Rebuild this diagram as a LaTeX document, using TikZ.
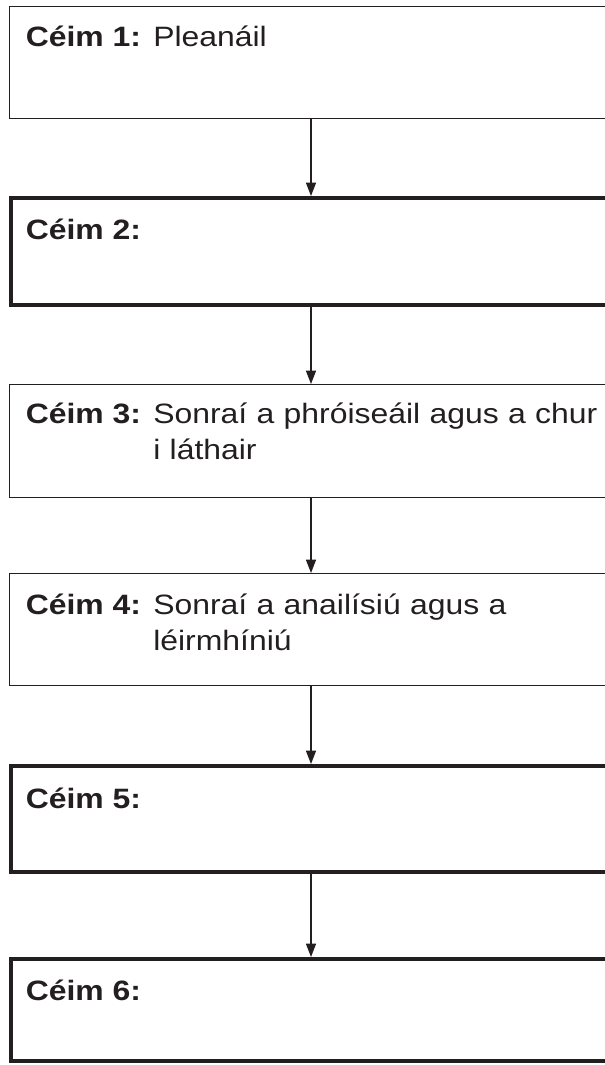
\documentclass[tikz,border=0pt]{standalone}
\usepackage{fontspec}
\setmainfont[FakeStretch=1.14]{Liberation Sans}
\usetikzlibrary{arrows.meta,calc}
\definecolor{ink}{RGB}{35,31,32}
\tikzset{
  >={Triangle[length=10pt,width=7.5pt]},
  stepbox/.style={draw=ink,line width=#1,minimum width=462pt,inner sep=0pt,anchor=north west},
  stepbox/.default=1pt,
  steplbl/.style={anchor=base west,inner sep=0pt,text=ink,font=\fontsize{21}{27}\selectfont\bfseries},
  stepdesc/.style={anchor=base west,inner sep=0pt,text=ink,text width=335pt,align=left,
    font=\fontsize{21}{27}\selectfont},
  link/.style={->,line width=1pt,draw=ink},
}

\begin{document}
\begin{tikzpicture}[x=0.75pt,y=-0.75pt]
  \useasboundingbox (0,0) rectangle (605,1065);
  \coordinate (ax) at (311,0);
  \coordinate (dx) at (153,0);
  % the six steps
  \foreach \n/\top/\h/\lw/\off in {1/6/112/1pt/40,2/196/107/3pt/43,3/384/113/1pt/39,
      4/573/112/1pt/41,5/764/106/3pt/44,6/957/102/3pt/43}{
    \node[stepbox=\lw,minimum height=\h*0.75pt] (b\n) at (8.5,\top) {};
    \node[steplbl] (l\n) at ($(b\n.north west)+(17,\off)$) {Céim \n:};
  }
  \node[stepdesc] (d1) at (l1.base -| dx) {Pleanáil};
  \node[stepdesc] (d3) at (l3.base -| dx) {Sonraí a phróiseáil agus a chur\\i láthair};
  \node[stepdesc] (d4) at (l4.base -| dx) {Sonraí a anailísiú agus a\\léirmhíniú};
  % connectors
  \foreach \a/\b in {1/2,2/3,3/4,4/5,5/6}
    \draw[link] (b\a.south -| ax) -- (b\b.north -| ax);
\end{tikzpicture}
\end{document}
